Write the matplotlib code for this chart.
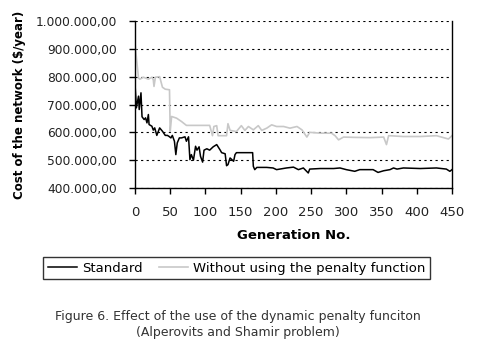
import matplotlib.pyplot as plt
from matplotlib.ticker import FuncFormatter

# data
std_gen = [0, 2, 5, 6, 8.5, 10, 13, 15, 17, 19, 20, 24, 26, 28, 31, 35, 39, 43, 46, 48,
           51, 53, 56, 58, 60, 63, 66, 71, 73, 76, 78, 80, 83, 86, 88, 91, 93, 96, 98,
           102, 106, 111, 116, 121, 123, 128, 130, 132, 135, 140, 142, 144, 167, 168,
           170, 173, 187, 196, 201, 215, 225, 232, 239, 246, 248, 263, 282, 291, 300,
           312, 319, 338, 345, 353, 362, 367, 372, 381, 405, 428, 442, 447, 450]
std_cost = [775, 688, 730, 682, 742, 656, 646, 652, 634, 664, 628, 622, 608, 616, 589,
            616, 604, 589, 589, 586, 580, 589, 568, 520, 562, 580, 580, 584, 568, 584,
            502, 520, 500, 550, 536, 548, 514, 493, 536, 541, 536, 548, 556, 536, 527,
            523, 480, 484, 508, 496, 520, 527, 527, 478, 466, 474, 474, 472, 466, 472,
            475, 466, 472, 454, 468, 470, 470, 472, 466, 460, 466, 466, 456, 462, 466,
            472, 468, 472, 470, 472, 468, 460, 466]

nopen_gen = [0, 1.4, 5, 7, 12, 19, 24, 26, 27, 29, 35, 39, 43, 49, 50, 52, 59, 66, 73,
             106, 110, 112, 116, 118, 130, 132, 135, 144, 151, 156, 161, 168, 175, 180,
             187, 194, 201, 211, 220, 230, 237, 244, 248, 263, 279, 284, 289, 296, 310,
             334, 353, 357, 360, 381, 405, 428, 445, 450]
nopen_cost = [920, 884, 795, 791, 798, 791, 798, 789, 765, 798, 800, 762, 755, 753, 603,
              657, 651, 639, 625, 625, 588, 621, 624, 588, 588, 631, 607, 603, 624, 607,
              621, 609, 624, 607, 615, 627, 621, 621, 615, 621, 609, 583, 600, 597, 597,
              588, 573, 583, 582, 581, 583, 556, 588, 585, 585, 588, 576, 588]

x_ticks = [0, 50, 100, 150, 200, 250, 300, 350, 400, 450]
y_ticks = [400000, 500000, 600000, 700000, 800000, 900000, 1000000]


def money(v, pos):
    s = "{:,.2f}".format(v)
    return s.replace(",", "X").replace(".", ",").replace("X", ".")


fig = plt.figure(figsize=(4.79, 3.61), dpi=100)
ax = fig.add_axes([0.2818, 0.4792, 0.6618, 0.4626])

ax.plot(nopen_gen, [c * 1000 for c in nopen_cost], color="#c8c8c8", lw=1.2,
        label="Without using the penalty function")
ax.plot(std_gen, [c * 1000 for c in std_cost], color="black", lw=1.1,
        label="Standard")

ax.set_xlim(0, 450)
ax.set_ylim(400000, 1000000)
ax.set_xticks(x_ticks)
ax.set_yticks(y_ticks)
ax.yaxis.set_major_formatter(FuncFormatter(money))
ax.grid(axis="y", color="black", linestyle=(0, (2, 3)), lw=0.8)
ax.spines["top"].set_visible(False)
for s in ["left", "bottom", "right"]:
    ax.spines[s].set_linewidth(1.0)
ax.tick_params(direction="out", length=4, width=1.0, colors="black",
               labelcolor="#222222")
ax.tick_params(axis="y", labelsize=8.8, pad=9)
ax.tick_params(axis="x", labelsize=9.5, pad=9)

ax.set_xlabel("Generation No.", fontsize=9.5, fontweight="bold", labelpad=7)
ax.set_ylabel("Cost of the network ($/year)", fontsize=8.5, fontweight="bold",
              labelpad=7)

handles, labels = ax.get_legend_handles_labels()
leg = fig.legend(handles[::-1], labels[::-1], ncol=2, loc="center",
                 bbox_to_anchor=(0.4937, 0.2576), fontsize=9.5, frameon=True,
                 fancybox=False, edgecolor="black", borderpad=0.35,
                 handlelength=2.2, columnspacing=1.2, handletextpad=0.4)
leg.get_frame().set_linewidth(1.0)

fig.text(0.497, 0.101, "Figure 6. Effect of the use of the dynamic penalty funciton\n"
         "(Alperovits and Shamir problem)", ha="center", va="center",
         fontsize=9, color="#333333", linespacing=1.25)

plt.savefig("out.png", dpi=100)
